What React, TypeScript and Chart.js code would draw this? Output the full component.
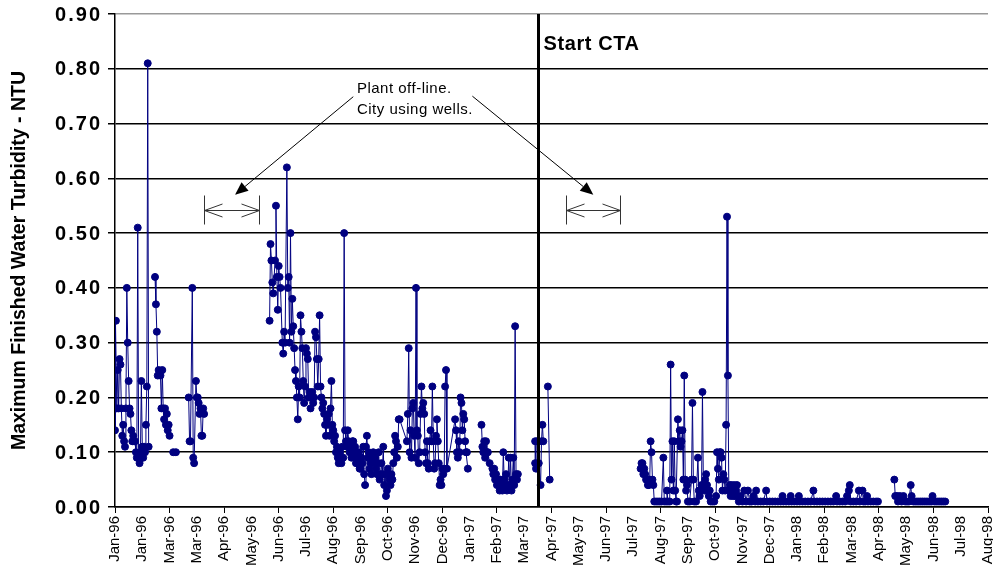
import { useEffect, useRef } from "react";
import { Chart, registerables } from "chart.js";

Chart.register(...registerables);

// Each point: [days since 1 Jan 1996, maximum finished water turbidity (NTU)]
const jan96: [number, number][] = [
  [0, 0.14], [0, 0.18], [1, 0.34], [2, 0.18], [3, 0.25], [4, 0.18], [5, 0.27], [6, 0.26], [7, 0.18], [8, 0.13],
  [9, 0.15], [10, 0.12], [11, 0.11], [12, 0.18], [13, 0.40], [14, 0.30], [15, 0.23], [16, 0.18], [17, 0.17],
  [18, 0.14], [19, 0.12], [20, 0.13], [21, 0.12], [22, 0.12], [23, 0.10], [24, 0.09], [25, 0.51], [26, 0.09],
  [27, 0.08], [28, 0.10], [29, 0.23], [30, 0.11], [31, 0.09], [32, 0.11], [33, 0.10], [34, 0.15], [35, 0.22],
  [36, 0.81], [37, 0.11],
];
const feb96: [number, number][] = [
  [44, 0.42], [45, 0.37], [46, 0.32], [47, 0.24], [48, 0.25], [50, 0.24], [51, 0.18], [52, 0.25], [53, 0.18],
  [54, 0.16], [55, 0.18], [56, 0.15], [57, 0.17], [58, 0.14], [59, 0.15], [60, 0.13],
];
const late_feb96: [number, number][] = [[64, 0.10], [67, 0.10]];
const mar96: [number, number][] = [
  [81, 0.20], [82, 0.12], [83, 0.12], [85, 0.40], [86, 0.09], [87, 0.08], [89, 0.23], [90, 0.20], [91, 0.20],
  [92, 0.19], [93, 0.17], [94, 0.18], [95, 0.13], [96, 0.13], [97, 0.18], [98, 0.17],
];
const jun96_jan97: [number, number][] = [
  [170, 0.34], [171, 0.48], [172, 0.45], [173, 0.41], [174, 0.39], [176, 0.45], [177, 0.55], [178, 0.42],
  [179, 0.36], [180, 0.44], [181, 0.42], [182, 0.40], [184, 0.30], [185, 0.28], [186, 0.32], [187, 0.30],
  [189, 0.62], [190, 0.40], [191, 0.42], [192, 0.30], [193, 0.50], [194, 0.32], [195, 0.38], [196, 0.33],
  [197, 0.29], [198, 0.25], [199, 0.23], [200, 0.20], [201, 0.16], [202, 0.22], [203, 0.20], [204, 0.35],
  [205, 0.32], [206, 0.29], [207, 0.23], [208, 0.19], [209, 0.22], [210, 0.29], [211, 0.28], [212, 0.27],
  [213, 0.20], [214, 0.21], [215, 0.18], [216, 0.20], [217, 0.21], [218, 0.19], [219, 0.20], [220, 0.32],
  [221, 0.31], [222, 0.27], [223, 0.22], [224, 0.27], [225, 0.35], [226, 0.22], [227, 0.20], [228, 0.18],
  [229, 0.19], [230, 0.17], [231, 0.15], [232, 0.13], [233, 0.16], [234, 0.15], [235, 0.17], [236, 0.13],
  [237, 0.18], [238, 0.23], [239, 0.15], [240, 0.14], [241, 0.12], [242, 0.13], [243, 0.10], [244, 0.11],
  [245, 0.09], [246, 0.08], [247, 0.10], [248, 0.09], [249, 0.08], [250, 0.11], [251, 0.09], [252, 0.50],
  [253, 0.14], [254, 0.12], [255, 0.11], [256, 0.14], [257, 0.12], [258, 0.10], [259, 0.11], [260, 0.09],
  [261, 0.12], [262, 0.12], [263, 0.10], [264, 0.11], [265, 0.08], [266, 0.09], [267, 0.08], [268, 0.10],
  [269, 0.07], [270, 0.07], [271, 0.09], [272, 0.08], [273, 0.11], [274, 0.06], [275, 0.04], [276, 0.11],
  [277, 0.13], [278, 0.09], [279, 0.10], [280, 0.07], [281, 0.08], [282, 0.06], [283, 0.09], [284, 0.10],
  [285, 0.08], [286, 0.09], [287, 0.07], [288, 0.06], [289, 0.08], [290, 0.10], [291, 0.05], [292, 0.06],
  [293, 0.08], [294, 0.06], [295, 0.11], [296, 0.04], [297, 0.06], [298, 0.02], [299, 0.03], [300, 0.07],
  [301, 0.06], [302, 0.05], [303, 0.04], [304, 0.06], [305, 0.05], [306, 0.08], [307, 0.10], [308, 0.13],
  [309, 0.12], [310, 0.09], [311, 0.11], [312, 0.16], [313, 0.16], [321, 0.12], [322, 0.17], [323, 0.29],
  [324, 0.10], [325, 0.14], [326, 0.09], [327, 0.18], [328, 0.19], [329, 0.13], [330, 0.09], [331, 0.40],
  [332, 0.14], [333, 0.13], [334, 0.08], [335, 0.10], [336, 0.17], [337, 0.22], [338, 0.18], [339, 0.19],
  [340, 0.17], [341, 0.10], [342, 0.08], [343, 0.12], [344, 0.08], [345, 0.07], [346, 0.12], [347, 0.14],
  [348, 0.12], [349, 0.22], [350, 0.12], [351, 0.07], [352, 0.08], [353, 0.13], [354, 0.16], [355, 0.12],
  [356, 0.08], [357, 0.04], [358, 0.05], [359, 0.04], [360, 0.07], [361, 0.06], [362, 0.07], [363, 0.22],
  [364, 0.25], [365, 0.07], [374, 0.16], [375, 0.14], [376, 0.10], [377, 0.09], [378, 0.12], [379, 0.10],
  [380, 0.20], [381, 0.19], [382, 0.14], [383, 0.17], [384, 0.16], [385, 0.12], [386, 0.10], [387, 0.10],
  [388, 0.07],
];
const feb97: [number, number][] = [
  [403, 0.15], [404, 0.11], [405, 0.10], [406, 0.12], [407, 0.09], [408, 0.12], [409, 0.10], [410, 0.10],
  [412, 0.08], [415, 0.07], [416, 0.06], [417, 0.07], [418, 0.05], [419, 0.06], [420, 0.04], [421, 0.05],
  [422, 0.04], [423, 0.03], [424, 0.05], [425, 0.04], [426, 0.03], [427, 0.10], [428, 0.05], [429, 0.04],
  [430, 0.06], [431, 0.03], [432, 0.04], [433, 0.09], [434, 0.04], [435, 0.09], [436, 0.03], [437, 0.05],
  [438, 0.09], [439, 0.04], [440, 0.33], [441, 0.06], [442, 0.05], [443, 0.06],
];
const apr97: [number, number][] = [
  [462, 0.08], [462, 0.12], [463, 0.07], [464, 0.12], [465, 0.08], [466, 0.08], [468, 0.04], [469, 0.12],
  [470, 0.15], [471, 0.12],
];
const late_apr97: [number, number][] = [[476, 0.22], [478, 0.05]];
const aug97_apr98: [number, number][] = [
  [578, 0.07], [579, 0.08], [580, 0.08], [581, 0.06], [582, 0.07], [583, 0.06], [584, 0.05], [585, 0.05],
  [586, 0.04], [587, 0.04], [588, 0.05], [589, 0.12], [590, 0.10], [591, 0.05], [592, 0.04], [593, 0.01],
  [595, 0.01], [597, 0.01], [599, 0.01], [601, 0.01], [603, 0.09], [604, 0.01], [606, 0.01], [607, 0.03],
  [608, 0.01], [610, 0.01], [611, 0.26], [612, 0.05], [613, 0.12], [614, 0.03], [615, 0.12], [616, 0.03],
  [617, 0.01], [618, 0.01], [619, 0.16], [620, 0.12], [621, 0.14], [622, 0.11], [623, 0.12], [624, 0.14],
  [625, 0.05], [626, 0.24], [627, 0.05], [628, 0.03], [629, 0.04], [630, 0.01], [632, 0.01], [634, 0.05],
  [635, 0.19], [636, 0.05], [637, 0.01], [639, 0.01], [641, 0.09], [642, 0.03], [643, 0.02], [644, 0.03],
  [645, 0.04], [646, 0.21], [647, 0.04], [648, 0.03], [649, 0.05], [650, 0.06], [651, 0.04], [652, 0.03],
  [653, 0.02], [654, 0.03], [655, 0.01], [657, 0.01], [659, 0.01], [661, 0.02], [662, 0.10], [663, 0.07],
  [664, 0.05], [665, 0.10], [666, 0.10], [667, 0.09], [668, 0.03], [669, 0.06], [670, 0.05], [671, 0.03],
  [672, 0.15], [673, 0.53], [674, 0.24], [675, 0.03], [676, 0.04], [677, 0.02], [678, 0.04], [679, 0.03],
  [680, 0.02], [681, 0.04], [682, 0.02], [683, 0.03], [684, 0.04], [685, 0.02], [686, 0.01], [688, 0.02],
  [690, 0.01], [692, 0.03], [694, 0.01], [696, 0.03], [698, 0.01], [700, 0.01], [702, 0.02], [704, 0.01],
  [705, 0.03], [707, 0.01], [710, 0.01], [713, 0.01], [716, 0.03], [717, 0.01], [720, 0.01], [723, 0.01],
  [726, 0.01], [729, 0.01], [732, 0.01], [734, 0.02], [735, 0.01], [738, 0.01], [741, 0.01], [743, 0.02],
  [744, 0.01], [747, 0.01], [750, 0.01], [752, 0.02], [753, 0.01], [756, 0.01], [759, 0.01], [762, 0.01],
  [765, 0.01], [768, 0.03], [769, 0.01], [772, 0.01], [775, 0.01], [778, 0.01], [781, 0.01], [784, 0.01],
  [787, 0.01], [790, 0.01], [793, 0.02], [794, 0.01], [797, 0.01], [800, 0.01], [803, 0.01], [805, 0.02],
  [807, 0.03], [808, 0.04], [809, 0.01], [812, 0.01], [815, 0.01], [818, 0.03], [819, 0.01], [822, 0.03],
  [823, 0.01], [825, 0.01], [827, 0.02], [828, 0.01], [831, 0.01], [834, 0.01], [837, 0.01], [839, 0.01],
];
const may_jun98: [number, number][] = [
  [857, 0.05], [858, 0.02], [860, 0.02], [861, 0.01], [863, 0.02], [865, 0.01], [867, 0.02], [869, 0.01],
  [871, 0.01], [873, 0.01], [875, 0.04], [876, 0.02], [878, 0.01], [880, 0.01], [882, 0.01], [884, 0.01],
  [886, 0.01], [888, 0.01], [890, 0.01], [892, 0.01], [894, 0.01], [896, 0.01], [898, 0.01], [899, 0.02],
  [901, 0.01], [903, 0.01], [905, 0.01], [907, 0.01], [909, 0.01], [911, 0.01], [913, 0.01],
];
const segments = [jan96, feb96, late_feb96, mar96, jun96_jan97, feb97, apr97, late_apr97, aug97_apr98, may_jun98];

// Axis ticks (x ticks every 30 days from 1 Jan 1996)
const xTickLabels = [
  "Jan-96", "Jan-96", "Mar-96", "Mar-96", "Apr-96", "May-96", "Jun-96", "Jul-96", "Aug-96", "Sep-96", "Oct-96",
  "Nov-96", "Dec-96", "Jan-97", "Feb-97", "Mar-97", "Apr-97", "May-97", "Jun-97", "Jul-97", "Aug-97", "Sep-97",
  "Oct-97", "Nov-97", "Dec-97", "Jan-98", "Feb-98", "Mar-98", "Apr-98", "May-98", "Jun-98", "Jul-98", "Aug-98",
];
const xTickStepDays = 30;
const xMaxDay = 960;
const yTickLabels = ["0.00", "0.10", "0.20", "0.30", "0.40", "0.50", "0.60", "0.70", "0.80", "0.90"];
const yMax = 0.9;
const yStep = 0.1;
const yTitle = "Maximum Finished Water Turbidity - NTU";

// Annotations (in data coordinates: day, NTU)
const ctaDay = 465;
const ctaLabel = "Start CTA";
const ctaLabelValue = 0.835;
const noteLines = ["Plant off-line.", "City using wells."];
const noteDay = 266;
const noteValues = [0.756, 0.7175];
const noteArrows: { from: [number, number]; to: [number, number] }[] = [
  { from: [262, 0.749], to: [132, 0.57] },
  { from: [393, 0.75], to: [526, 0.57] },
];
const offlineSpans: [number, number][] = [
  [98, 158.5],
  [495.5, 555.5],
];
const offlineSpanValue = 0.5425;

const FONT = "'Liberation Sans', Arial, sans-serif";
const NAVY = "#000080";

const notesPlugin = {
  id: "notes",
  afterDatasetsDraw(chart: any) {
    const { ctx, chartArea, scales } = chart;
    const px = (d: number) => scales.x.getPixelForValue(d);
    const py = (v: number) => scales.y.getPixelForValue(v);
    ctx.save();
    ctx.strokeStyle = "#000";
    ctx.fillStyle = "#000";
    // y tick labels (drawn here to allow wider letter spacing)
    ctx.font = `bold 20px ${FONT}`;
    ctx.textAlign = "right";
    ctx.textBaseline = "middle";
    (ctx as any).letterSpacing = "2px";
    yTickLabels.forEach((t, i) => {
      ctx.fillText(t, scales.y.right - 15 + 2, py(i * yStep) + 1);
    });
    // Start CTA line
    const cx = Math.round(px(ctaDay)) + 0.5;
    ctx.lineWidth = 3;
    ctx.beginPath();
    ctx.moveTo(cx, chartArea.top);
    ctx.lineTo(cx, chartArea.bottom);
    ctx.stroke();
    ctx.font = `bold 20px ${FONT}`;
    (ctx as any).letterSpacing = "0.6px";
    ctx.textAlign = "left";
    ctx.textBaseline = "alphabetic";
    ctx.fillText(ctaLabel, cx + 5, py(ctaLabelValue));
    // note text
    ctx.font = `15px ${FONT}`;
    (ctx as any).letterSpacing = "0.5px";
    noteLines.forEach((t, i) => ctx.fillText(t, px(noteDay), py(noteValues[i])));
    (ctx as any).letterSpacing = "0px";
    // arrows with filled heads
    ctx.lineWidth = 1;
    for (const a of noteArrows) {
      const x1 = px(a.from[0]), y1 = py(a.from[1]);
      const x2 = px(a.to[0]), y2 = py(a.to[1]);
      const ang = Math.atan2(y2 - y1, x2 - x1);
      const hl = 13, hw = 5.5;
      const bx = x2 - hl * Math.cos(ang), by = y2 - hl * Math.sin(ang);
      ctx.beginPath();
      ctx.moveTo(x1, y1);
      ctx.lineTo(bx, by);
      ctx.stroke();
      ctx.beginPath();
      ctx.moveTo(x2, y2);
      ctx.lineTo(bx + hw * Math.sin(ang), by - hw * Math.cos(ang));
      ctx.lineTo(bx - hw * Math.sin(ang), by + hw * Math.cos(ang));
      ctx.closePath();
      ctx.fill();
    }
    // off-line spans
    ctx.strokeStyle = "#333";
    for (const [d1, d2] of offlineSpans) {
      const xa = Math.round(px(d1)) + 0.5, xb = Math.round(px(d2)) + 0.5;
      const yc = Math.round(py(offlineSpanValue)) + 0.5;
      ctx.beginPath();
      ctx.moveTo(xa, yc - 15);
      ctx.lineTo(xa, yc + 14);
      ctx.moveTo(xb, yc - 15);
      ctx.lineTo(xb, yc + 14);
      ctx.moveTo(xa, yc);
      ctx.lineTo(xb, yc);
      ctx.moveTo(xa + 18, yc - 6.5);
      ctx.lineTo(xa, yc);
      ctx.lineTo(xa + 18, yc + 6.5);
      ctx.moveTo(xb - 18, yc - 6.5);
      ctx.lineTo(xb, yc);
      ctx.lineTo(xb - 18, yc + 6.5);
      ctx.stroke();
    }
    ctx.restore();
  },
};

export default function App() {
  const canvasRef = useRef<HTMLCanvasElement | null>(null);

  useEffect(() => {
    const canvas = canvasRef.current;
    if (!canvas) return;
    const points: { x: number; y: number | null }[] = [];
    segments.forEach((seg, i) => {
      if (i > 0) points.push({ x: seg[0][0] - 0.5, y: null });
      seg.forEach(([d, v]) => points.push({ x: d, y: v }));
    });

    const chart = new Chart(canvas, {
      type: "line",
      data: {
        datasets: [
          {
            data: points as any,
            borderColor: NAVY,
            borderWidth: 1,
            backgroundColor: NAVY,
            pointBackgroundColor: NAVY,
            pointBorderColor: NAVY,
            pointBorderWidth: 1,
            pointRadius: 3.5,
            spanGaps: false,
            tension: 0,
          },
        ],
      },
      options: {
        responsive: false,
        animation: false,
        events: [],
        layout: { padding: { top: 14, right: 5, left: 0, bottom: 0 } },
        plugins: { legend: { display: false }, tooltip: { enabled: false } },
        scales: {
          x: {
            type: "linear",
            min: 0,
            max: xMaxDay,
            ticks: {
              stepSize: xTickStepDays,
              autoSkip: false,
              minRotation: 90,
              maxRotation: 90,
              padding: 3,
              color: "#000",
              font: { family: FONT, size: 15 },
              callback: (_v: any, i: number) => xTickLabels[i],
            },
            grid: {
              drawOnChartArea: false,
              tickLength: 6,
              tickColor: (c: any) => (c.index % 2 === 0 ? "#000" : "rgba(0,0,0,0)"),
            },
            border: { color: "#000", width: 1.5 },
            afterFit: (s: any) => {
              s.height = 60;
              s.paddingRight = 0;
              s.paddingLeft = 0;
            },
          },
          y: {
            min: 0,
            max: yMax,
            ticks: {
              stepSize: yStep,
              padding: 8,
              color: "rgba(0,0,0,0)",
              font: { family: FONT, size: 18, weight: "bold" },
              callback: (_v: any, i: number) => yTickLabels[i],
            },
            grid: {
              color: (c: any) => (c.index === yTickLabels.length - 1 ? "#999" : "#000"),
              lineWidth: 1.5,
              tickLength: 7,
              tickColor: "#000",
            },
            border: { color: "#000", width: 1.5 },
            title: {
              display: true,
              text: yTitle,
              color: "#000",
              font: { family: FONT, size: 19.5, weight: "bold" },
              padding: { top: 8, bottom: 0 },
            },
            afterFit: (s: any) => {
              s.width = 115;
              s.paddingTop = 0;
              s.paddingBottom = 0;
            },
          },
        },
      },
      plugins: [notesPlugin],
    });
    return () => chart.destroy();
  }, []);

  return (
    <div style={{ position: "fixed", left: 0, top: 0, width: 993, height: 567, background: "#fff" }}>
      <canvas ref={canvasRef} width={993} height={567} style={{ width: 993, height: 567, display: "block" }} />
    </div>
  );
}
